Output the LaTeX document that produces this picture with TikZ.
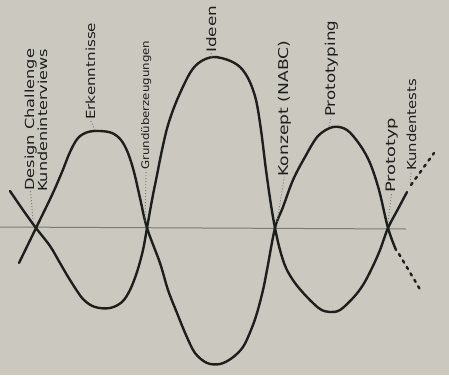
\documentclass[tikz,border=0pt]{standalone}
\usepackage{fontspec}
\setmainfont{DejaVu Sans}
\usetikzlibrary{calc}
\definecolor{paper}{HTML}{CBC8BF}
\definecolor{ink}{HTML}{1E1E1C}
\definecolor{axis}{HTML}{7C7B76}
\tikzstyle{wave}   = [draw=ink, line width=2.4pt, line cap=round, line join=round]
\tikzstyle{tail}   = [draw=ink, line width=2.4pt, line cap=round,
                      dash pattern=on 2.5pt off 5pt]
\tikzstyle{leader} = [draw=axis, line width=0.9pt, dash pattern=on 1pt off 2pt]
\tikzset{lbl/.style={rotate=90, anchor=base west, inner sep=0pt, text=ink,
                     font=\fontsize{#1}{#1}\selectfont},
         lbl/.default=12}
% stretch a handwritten label to its length along the page
\newcommand{\handlen}[2]{\resizebox{#1pt}{\height}{#2}}

\begin{document}
\begin{tikzpicture}[x=1pt, y=-1pt]

  \fill[paper] (0,0) rectangle (449,375);
  \useasboundingbox (0,0) rectangle (449,375);

  %% crossings on the axis
  \coordinate (c1) at (36,228);
  \coordinate (c2) at (147,228);
  \coordinate (c3) at (275,228);
  \coordinate (c4) at (388,228);

  %% axis
  \coordinate (a0) at (0,227);
  \coordinate (a1) at (406,229);
  \draw[axis, line width=1pt] (a0) -- (a1);

  %% first wave: up - down - up
  \draw[wave] plot[smooth, tension=0.55] coordinates {
    (19,263) (c1) (52,195) (62,172) (70,152) (78,138) (88,132) (100,131)
    (112,133) (121,140) (128,153) (134,172) (140,198) (c2) (160,263)
    (168,290) (177,313) (186,335) (195,353) (207,363) (220,364) (232,358)
    (243,347) (251,330) (257,313) (263,290) (267,270) (c3) (283,207)
    (293,180) (305,157) (318,136) (333,127) (347,130) (360,145) (370,163)
    (379,190) (c4) (396,250)};

  %% second wave: down - up - down
  \draw[wave] plot[smooth, tension=0.55] coordinates {
    (10,191) (23,210) (c1) (50,246) (60,263) (70,280) (83,299) (95,307)
    (110,308) (122,302) (130,290) (137,272) (143,250) (c2) (152,200)
    (157,175) (162,150) (168,125) (177,100) (190,73) (200,62) (213,57)
    (228,60) (240,67) (249,80) (256,100) (261,130) (266,170) (271,205)
    (c3) (280,250) (286,268) (295,283) (307,297) (320,309) (330,312)
    (340,310) (353,298) (363,285) (372,268) (380,250) (c4) (398,209)
    (407,192)};

  %% open ends
  \coordinate (t1) at (399,254);
  \coordinate (t2) at (421,291);
  \coordinate (t3) at (411,185);
  \coordinate (t4) at (434,153);
  \draw[tail] (t1) -- (t2);
  \draw[tail] (t3) -- (t4);

  %% labels
  \node[lbl=12.5] (chal)  at (34,191)  {\handlen{142}{Design Challenge}};
  \node[lbl=12.5] (intv)  at (47,192)  {\handlen{143}{Kundeninterviews}};
  \node[lbl=12.5] (erk)   at (95,120)  {\handlen{97}{Erkenntnisse}};
  \node[lbl=10.5] (grund) at (149,170) {\handlen{129}{Grundüberzeugungen}};
  \node[lbl=13]   (ideen) at (216,53)  {\handlen{47}{Ideen}};
  \node[lbl=13.5] (konz)  at (288,177) {\handlen{136}{Konzept (NABC)}};
  \node[lbl=13.5] (proto) at (335,117) {\handlen{96}{Prototyping}};
  \node[lbl=13]   (ptyp)  at (395,193) {\handlen{75}{Prototyp}};
  \node[lbl=12.5] (tests) at (416,171) {\handlen{92}{Kundentests}};

  %% leaders
  \draw[leader] (c1) ++(-3,-9) -- (chal.west);
  \draw[leader] (c2) ++(-2,-7) -- (grund.west);
  \draw[leader] (c3) ++(2,-6) -- (konz.west);
  \draw[leader] (c4) ++(0,-6) -- (ptyp.west);
  \draw[leader] (95,130) -- (erk.west);
  \draw[leader] (212,57) -- (ideen.west);
  \draw[leader] (329,126) -- (proto.west);
  \draw[leader] (410,183) -- (tests.west);

\end{tikzpicture}
\end{document}
